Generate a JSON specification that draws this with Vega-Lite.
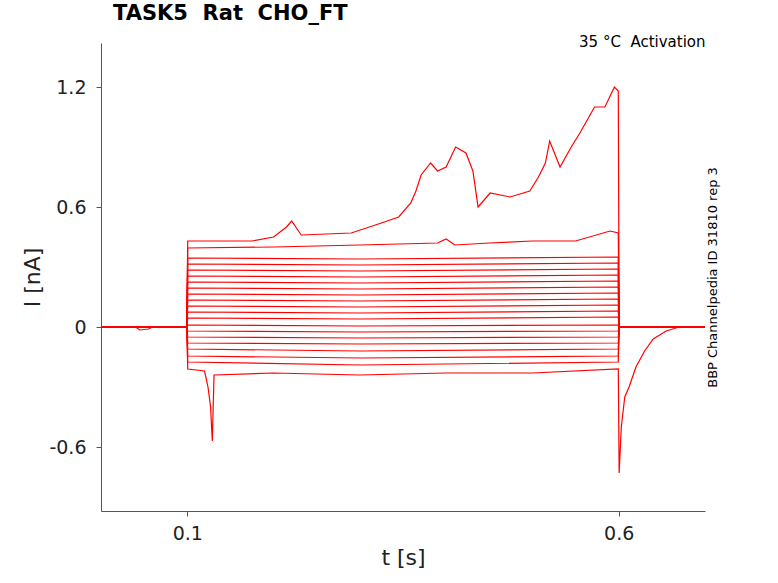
{
  "$schema": "https://vega.github.io/schema/vega-lite/v6.json",
  "autosize": "none",
  "width": 604,
  "height": 468,
  "padding": {"left": 101, "top": 43, "right": 73, "bottom": 72},
  "background": "white",
  "config": {"font": "DejaVu Sans", "view": {"stroke": null}},
  "title": {"text": "TASK5\u00a0\u00a0Rat\u00a0\u00a0CHO_FT", "frame": "group", "anchor": "start", "dx": 12, "fontSize": 21, "fontWeight": "bold", "offset": 10},
  "datasets": {
    "traces": [
      {"trace": 1, "t": 0, "i": 0}, {"trace": 1, "t": 0.04, "i": 0}, {"trace": 1, "t": 0.045, "i": -0.015}, {"trace": 1, "t": 0.055, "i": -0.01}, {"trace": 1, "t": 0.06, "i": 0}, {"trace": 1, "t": 0.0995, "i": 0},
      {"trace": 1, "t": 0.1005, "i": 0.43}, {"trace": 1, "t": 0.106, "i": 0.43}, {"trace": 1, "t": 0.175, "i": 0.43}, {"trace": 1, "t": 0.2, "i": 0.45}, {"trace": 1, "t": 0.215, "i": 0.5}, {"trace": 1, "t": 0.221, "i": 0.53},
      {"trace": 1, "t": 0.232, "i": 0.46}, {"trace": 1, "t": 0.29, "i": 0.47}, {"trace": 1, "t": 0.325, "i": 0.52}, {"trace": 1, "t": 0.345, "i": 0.55}, {"trace": 1, "t": 0.359, "i": 0.62}, {"trace": 1, "t": 0.365, "i": 0.68},
      {"trace": 1, "t": 0.371, "i": 0.76}, {"trace": 1, "t": 0.382, "i": 0.82}, {"trace": 1, "t": 0.39, "i": 0.78}, {"trace": 1, "t": 0.4, "i": 0.8}, {"trace": 1, "t": 0.411, "i": 0.9}, {"trace": 1, "t": 0.423, "i": 0.87},
      {"trace": 1, "t": 0.431, "i": 0.78}, {"trace": 1, "t": 0.437, "i": 0.6}, {"trace": 1, "t": 0.451, "i": 0.67}, {"trace": 1, "t": 0.474, "i": 0.65}, {"trace": 1, "t": 0.497, "i": 0.68}, {"trace": 1, "t": 0.507, "i": 0.75},
      {"trace": 1, "t": 0.515, "i": 0.82}, {"trace": 1, "t": 0.52, "i": 0.93}, {"trace": 1, "t": 0.532, "i": 0.8}, {"trace": 1, "t": 0.545, "i": 0.9}, {"trace": 1, "t": 0.555, "i": 0.97}, {"trace": 1, "t": 0.572, "i": 1.1},
      {"trace": 1, "t": 0.584, "i": 1.1}, {"trace": 1, "t": 0.595, "i": 1.2}, {"trace": 1, "t": 0.5995, "i": 1.18}, {"trace": 1, "t": 0.6005, "i": 0}, {"trace": 1, "t": 0.7, "i": 0},

      {"trace": 2, "t": 0, "i": 0}, {"trace": 2, "t": 0.0995, "i": 0}, {"trace": 2, "t": 0.1005, "i": 0.395}, {"trace": 2, "t": 0.2, "i": 0.4}, {"trace": 2, "t": 0.3, "i": 0.41}, {"trace": 2, "t": 0.39, "i": 0.42},
      {"trace": 2, "t": 0.4, "i": 0.44}, {"trace": 2, "t": 0.41, "i": 0.41}, {"trace": 2, "t": 0.45, "i": 0.42}, {"trace": 2, "t": 0.5, "i": 0.43}, {"trace": 2, "t": 0.55, "i": 0.43}, {"trace": 2, "t": 0.59, "i": 0.48},
      {"trace": 2, "t": 0.5995, "i": 0.47}, {"trace": 2, "t": 0.6005, "i": 0}, {"trace": 2, "t": 0.7, "i": 0},

      {"trace": 3, "t": 0, "i": 0}, {"trace": 3, "t": 0.0995, "i": 0}, {"trace": 3, "t": 0.1005, "i": 0.345}, {"trace": 3, "t": 0.3, "i": 0.34}, {"trace": 3, "t": 0.5995, "i": 0.35}, {"trace": 3, "t": 0.6005, "i": 0}, {"trace": 3, "t": 0.7, "i": 0},
      {"trace": 4, "t": 0, "i": 0}, {"trace": 4, "t": 0.0995, "i": 0}, {"trace": 4, "t": 0.1005, "i": 0.315}, {"trace": 4, "t": 0.3, "i": 0.31}, {"trace": 4, "t": 0.5995, "i": 0.32}, {"trace": 4, "t": 0.6005, "i": 0}, {"trace": 4, "t": 0.7, "i": 0},
      {"trace": 5, "t": 0, "i": 0}, {"trace": 5, "t": 0.0995, "i": 0}, {"trace": 5, "t": 0.1005, "i": 0.285}, {"trace": 5, "t": 0.3, "i": 0.28}, {"trace": 5, "t": 0.5995, "i": 0.29}, {"trace": 5, "t": 0.6005, "i": 0}, {"trace": 5, "t": 0.7, "i": 0},
      {"trace": 6, "t": 0, "i": 0}, {"trace": 6, "t": 0.0995, "i": 0}, {"trace": 6, "t": 0.1005, "i": 0.255}, {"trace": 6, "t": 0.3, "i": 0.25}, {"trace": 6, "t": 0.5995, "i": 0.26}, {"trace": 6, "t": 0.6005, "i": 0}, {"trace": 6, "t": 0.7, "i": 0},
      {"trace": 7, "t": 0, "i": 0}, {"trace": 7, "t": 0.0995, "i": 0}, {"trace": 7, "t": 0.1005, "i": 0.225}, {"trace": 7, "t": 0.3, "i": 0.22}, {"trace": 7, "t": 0.5995, "i": 0.23}, {"trace": 7, "t": 0.6005, "i": 0}, {"trace": 7, "t": 0.7, "i": 0},
      {"trace": 8, "t": 0, "i": 0}, {"trace": 8, "t": 0.0995, "i": 0}, {"trace": 8, "t": 0.1005, "i": 0.195}, {"trace": 8, "t": 0.3, "i": 0.19}, {"trace": 8, "t": 0.5995, "i": 0.2}, {"trace": 8, "t": 0.6005, "i": 0}, {"trace": 8, "t": 0.7, "i": 0},
      {"trace": 9, "t": 0, "i": 0}, {"trace": 9, "t": 0.0995, "i": 0}, {"trace": 9, "t": 0.1005, "i": 0.165}, {"trace": 9, "t": 0.3, "i": 0.16}, {"trace": 9, "t": 0.5995, "i": 0.17}, {"trace": 9, "t": 0.6005, "i": 0}, {"trace": 9, "t": 0.7, "i": 0},
      {"trace": 10, "t": 0, "i": 0}, {"trace": 10, "t": 0.0995, "i": 0}, {"trace": 10, "t": 0.1005, "i": 0.135}, {"trace": 10, "t": 0.3, "i": 0.13}, {"trace": 10, "t": 0.5995, "i": 0.14}, {"trace": 10, "t": 0.6005, "i": 0}, {"trace": 10, "t": 0.7, "i": 0},
      {"trace": 11, "t": 0, "i": 0}, {"trace": 11, "t": 0.0995, "i": 0}, {"trace": 11, "t": 0.1005, "i": 0.105}, {"trace": 11, "t": 0.3, "i": 0.1}, {"trace": 11, "t": 0.5995, "i": 0.11}, {"trace": 11, "t": 0.6005, "i": 0}, {"trace": 11, "t": 0.7, "i": 0},
      {"trace": 12, "t": 0, "i": 0}, {"trace": 12, "t": 0.0995, "i": 0}, {"trace": 12, "t": 0.1005, "i": 0.075}, {"trace": 12, "t": 0.3, "i": 0.07}, {"trace": 12, "t": 0.5995, "i": 0.08}, {"trace": 12, "t": 0.6005, "i": 0}, {"trace": 12, "t": 0.7, "i": 0},
      {"trace": 13, "t": 0, "i": 0}, {"trace": 13, "t": 0.0995, "i": 0}, {"trace": 13, "t": 0.1005, "i": 0.045}, {"trace": 13, "t": 0.3, "i": 0.04}, {"trace": 13, "t": 0.5995, "i": 0.05}, {"trace": 13, "t": 0.6005, "i": 0}, {"trace": 13, "t": 0.7, "i": 0},
      {"trace": 14, "t": 0, "i": 0}, {"trace": 14, "t": 0.0995, "i": 0}, {"trace": 14, "t": 0.1005, "i": 0.01}, {"trace": 14, "t": 0.3, "i": 0.005}, {"trace": 14, "t": 0.5995, "i": 0.01}, {"trace": 14, "t": 0.6005, "i": 0}, {"trace": 14, "t": 0.7, "i": 0},
      {"trace": 15, "t": 0, "i": 0}, {"trace": 15, "t": 0.0995, "i": 0}, {"trace": 15, "t": 0.1005, "i": -0.02}, {"trace": 15, "t": 0.3, "i": -0.025}, {"trace": 15, "t": 0.5995, "i": -0.02}, {"trace": 15, "t": 0.6005, "i": 0}, {"trace": 15, "t": 0.7, "i": 0},
      {"trace": 16, "t": 0, "i": 0}, {"trace": 16, "t": 0.0995, "i": 0}, {"trace": 16, "t": 0.1005, "i": -0.05}, {"trace": 16, "t": 0.3, "i": -0.055}, {"trace": 16, "t": 0.5995, "i": -0.05}, {"trace": 16, "t": 0.6005, "i": 0}, {"trace": 16, "t": 0.7, "i": 0},
      {"trace": 17, "t": 0, "i": 0}, {"trace": 17, "t": 0.0995, "i": 0}, {"trace": 17, "t": 0.1005, "i": -0.08}, {"trace": 17, "t": 0.3, "i": -0.085}, {"trace": 17, "t": 0.5995, "i": -0.08}, {"trace": 17, "t": 0.6005, "i": 0}, {"trace": 17, "t": 0.7, "i": 0},
      {"trace": 18, "t": 0, "i": 0}, {"trace": 18, "t": 0.0995, "i": 0}, {"trace": 18, "t": 0.1005, "i": -0.11}, {"trace": 18, "t": 0.3, "i": -0.12}, {"trace": 18, "t": 0.5995, "i": -0.11}, {"trace": 18, "t": 0.6005, "i": 0}, {"trace": 18, "t": 0.7, "i": 0},
      {"trace": 19, "t": 0, "i": 0}, {"trace": 19, "t": 0.0995, "i": 0}, {"trace": 19, "t": 0.1005, "i": -0.145}, {"trace": 19, "t": 0.3, "i": -0.155}, {"trace": 19, "t": 0.5995, "i": -0.145}, {"trace": 19, "t": 0.6005, "i": 0}, {"trace": 19, "t": 0.7, "i": 0},
      {"trace": 20, "t": 0, "i": 0}, {"trace": 20, "t": 0.0995, "i": 0}, {"trace": 20, "t": 0.1005, "i": -0.175}, {"trace": 20, "t": 0.3, "i": -0.19}, {"trace": 20, "t": 0.5995, "i": -0.175}, {"trace": 20, "t": 0.6005, "i": 0}, {"trace": 20, "t": 0.7, "i": 0},

      {"trace": 21, "t": 0, "i": 0}, {"trace": 21, "t": 0.0995, "i": 0}, {"trace": 21, "t": 0.1005, "i": -0.21}, {"trace": 21, "t": 0.12, "i": -0.22}, {"trace": 21, "t": 0.124, "i": -0.3}, {"trace": 21, "t": 0.127, "i": -0.4},
      {"trace": 21, "t": 0.129, "i": -0.57}, {"trace": 21, "t": 0.131, "i": -0.24}, {"trace": 21, "t": 0.2, "i": -0.23}, {"trace": 21, "t": 0.3, "i": -0.24}, {"trace": 21, "t": 0.4, "i": -0.23}, {"trace": 21, "t": 0.5, "i": -0.23},
      {"trace": 21, "t": 0.5995, "i": -0.21}, {"trace": 21, "t": 0.6005, "i": -0.73}, {"trace": 21, "t": 0.603, "i": -0.5}, {"trace": 21, "t": 0.607, "i": -0.35}, {"trace": 21, "t": 0.612, "i": -0.3}, {"trace": 21, "t": 0.62, "i": -0.2},
      {"trace": 21, "t": 0.63, "i": -0.12}, {"trace": 21, "t": 0.64, "i": -0.06}, {"trace": 21, "t": 0.655, "i": -0.02}, {"trace": 21, "t": 0.67, "i": 0}, {"trace": 21, "t": 0.7, "i": 0}
    ]
  },
  "data": {"name": "traces"},
  "layer": [
    {
      "mark": {"type": "line", "color": "red", "strokeWidth": 1.2, "clip": true},
      "encoding": {
        "x": {"field": "t", "type": "quantitative", "scale": {"domain": [0, 0.7], "nice": false},
          "axis": {"values": [0.1, 0.6], "labelExpr": "toString(datum.value)", "title": "t [s]", "grid": false, "labelFontSize": 19, "titleFontSize": 22, "titleFontWeight": "normal", "tickDirection": "inward", "tickSize": 5, "labelPadding": 8, "domainColor": "#555", "tickColor": "#555", "labelColor": "#222", "titleColor": "#222"}},
        "y": {"field": "i", "type": "quantitative", "scale": {"domain": [-0.92, 1.42], "nice": false, "zero": false},
          "axis": {"values": [-0.6, 0, 0.6, 1.2], "labelExpr": "toString(datum.value)", "title": "I [nA]", "grid": false, "labelFontSize": 19, "titleFontSize": 22, "titleFontWeight": "normal", "labelPadding": 10, "domainColor": "#555", "tickColor": "#555", "labelColor": "#222", "titleColor": "#222"}},
        "detail": {"field": "trace"},
        "order": {"field": "t"}
      }
    },
    {
      "mark": {"type": "line", "opacity": 0},
      "encoding": {
        "x": {"field": "t", "type": "quantitative", "axis": {"orient": "top", "title": "35 °C\u00a0\u00a0Activation", "titleAnchor": "end", "titleFontSize": 15, "titleFontWeight": "normal", "labels": false, "ticks": false, "domain": false, "titlePadding": -6, "titleColor": "#000"}},
        "y": {"field": "i", "type": "quantitative", "axis": {"orient": "right", "title": "BBP Channelpedia ID 31810 rep 3", "titleAngle": 270, "titleFontSize": 13, "titleFontWeight": "normal", "labels": false, "ticks": false, "domain": false, "titlePadding": 14, "titleColor": "#000"}},
        "detail": {"field": "trace"}
      }
    }
  ],
  "resolve": {"axis": {"x": "independent", "y": "independent"}}
}
